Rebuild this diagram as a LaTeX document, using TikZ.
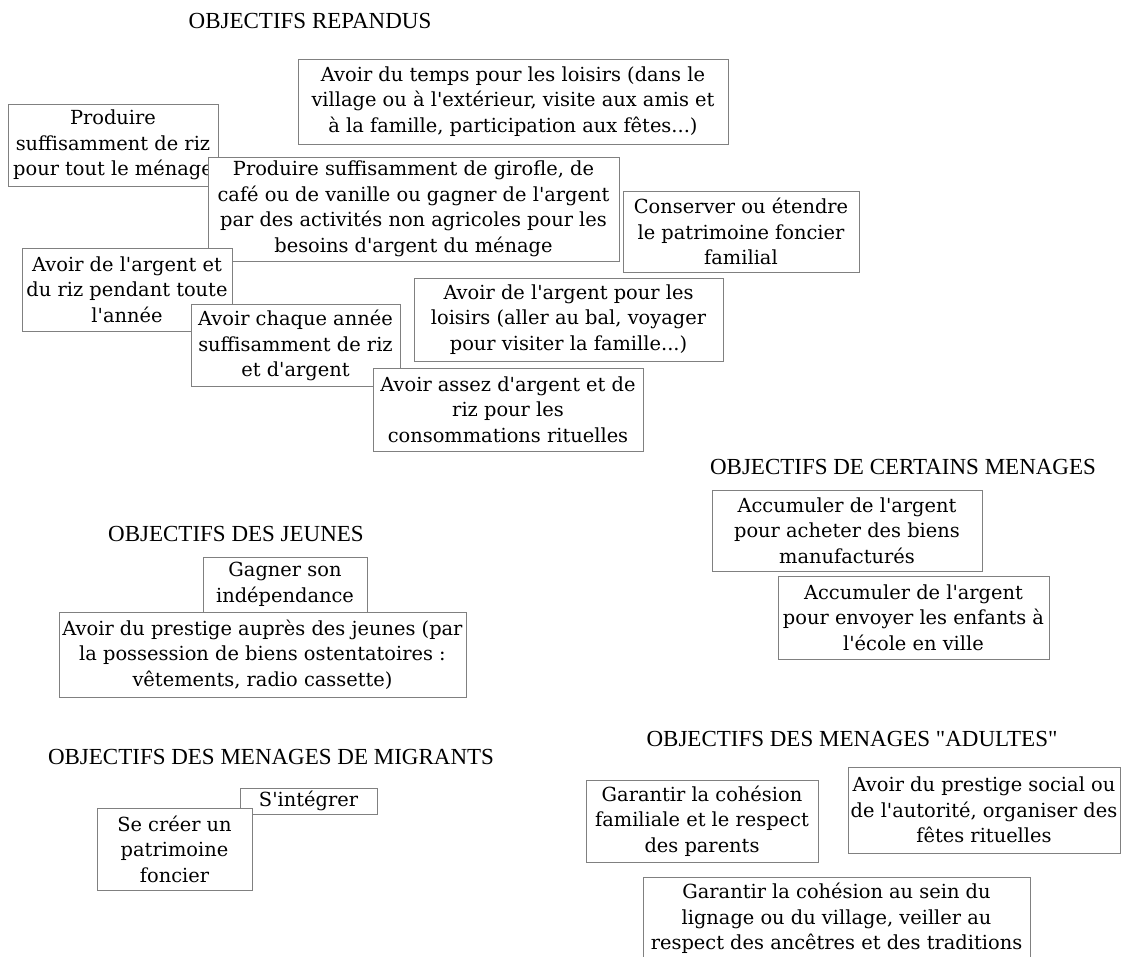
\documentclass[tikz,border=0pt]{standalone}
\usepackage{fontspec}
\setmainfont[Ligatures=TeXOff]{Liberation Serif}
\newfontfamily\boitefont[Ligatures=TeXOff]{DejaVu Serif}

\begin{document}
\begin{tikzpicture}[x=1pt,y=-1pt,
    objectif/.style={draw=gray,line width=0.9pt,fill=white,inner sep=0pt,
      align=center,font=\boitefont\fontsize{19.4}{25.5}\selectfont},
    titre/.style={inner sep=0pt,font=\fontsize{23}{27}\selectfont}]
  \useasboundingbox (0,0) rectangle (1122,956);

  % objectifs repandus
  \node [titre] (trep) at (310,21) {OBJECTIFS REPANDUS};
  \node [objectif,minimum width=430pt,minimum height=85pt] (temps) at (513,101.5)
    {Avoir du temps pour les loisirs (dans le\\village ou à l'extérieur, visite aux amis et\\à la famille, participation aux fêtes...)};
  \node [objectif,minimum width=210pt,minimum height=82pt] (riz) at (113,145)
    {Produire\\suffisamment de riz\\pour tout le ménage};
  \node [objectif,minimum width=411pt,minimum height=104pt] (girofle) at (413.5,209)
    {Produire suffisamment de girofle, de\\café ou de vanille ou gagner de l'argent\\par des activités non agricoles pour les\\besoins d'argent du ménage};
  \node [objectif,minimum width=236pt,minimum height=81pt] (foncier) at (741,231.5)
    {Conserver ou étendre\\le patrimoine foncier\\familial};
  \node [objectif,minimum width=210pt,minimum height=83pt] (annee) at (127,289.5)
    {Avoir de l'argent et\\du riz pendant toute\\l'année};
  \node [objectif,minimum width=309pt,minimum height=83pt] (loisirs) at (568.5,319.5)
    {Avoir de l'argent pour les\\loisirs (aller au bal, voyager\\pour visiter la famille...)};
  \node [objectif,minimum width=209pt,minimum height=82pt] (chaque) at (295.5,345.5)
    {Avoir chaque année\\suffisamment de riz\\et d'argent};
  \node [objectif,minimum width=270pt,minimum height=83pt] (rituel) at (508,409.5)
    {Avoir assez d'argent et de\\riz pour les\\consommations rituelles};

  % objectifs de certains menages
  \node [titre] (tcert) at (903,467) {OBJECTIFS DE CERTAINS MENAGES};
  \node [objectif,minimum width=270pt,minimum height=81pt] (biens) at (847,530.5)
    {Accumuler de l'argent\\pour acheter des biens\\manufacturés};
  \node [objectif,minimum width=271pt,minimum height=83pt] (ecole) at (913.5,617.5)
    {Accumuler de l'argent\\pour envoyer les enfants à\\l'école en ville};

  % objectifs des jeunes
  \node [titre] (tjeun) at (236,534) {OBJECTIFS DES JEUNES};
  \node [objectif,minimum width=164pt,minimum height=55pt] (indep) at (285,584.5)
    {Gagner son\\indépendance};
  \node [objectif,minimum width=407pt,minimum height=85pt] (prestj) at (262.5,654.5)
    {Avoir du prestige auprès des jeunes (par\\la possession de biens ostentatoires :\\vêtements, radio cassette)};

  % objectifs des menages de migrants
  \node [titre] (tmigr) at (271,757) {OBJECTIFS DES MENAGES DE MIGRANTS};
  \node [objectif,minimum width=137pt,minimum height=26pt] (integr) at (308.5,801)
    {S'intégrer};
  \node [objectif,minimum width=155pt,minimum height=82pt] (patri) at (174.5,849)
    {Se créer un\\patrimoine\\foncier};

  % objectifs des menages adultes
  \node [titre] (tadul) at (852,739) {OBJECTIFS DES MENAGES "ADULTES"};
  \node [objectif,minimum width=232pt,minimum height=82pt] (famil) at (702,821)
    {Garantir la cohésion\\familiale et le respect\\des parents};
  \node [objectif,minimum width=272pt,minimum height=86pt] (prests) at (984,810)
    {Avoir du prestige social ou\\de l'autorité, organiser des\\fêtes rituelles};
  \node [objectif,minimum width=387pt,minimum height=83pt] (lignage) at (836.5,918.5)
    {Garantir la cohésion au sein du\\lignage ou du village, veiller au\\respect des ancêtres et des traditions};
\end{tikzpicture}
\end{document}
